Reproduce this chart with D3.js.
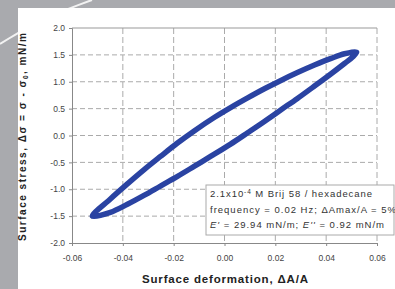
<!DOCTYPE html>
<html lang="en">
<head>
  <meta charset="UTF-8">
  <title>Surface stress vs surface deformation</title>
  <script src="https://d3js.org/d3.v7.min.js"></script>
  <style>
    body { margin: 0; background: #a9aaae; }
    text { font-family: "Liberation Sans", Arial, sans-serif; }
  </style>
</head>
<body>
  <div id="chart"></div>

  <script>
    // Tick values
    const xTicks = [-0.06, -0.04, -0.02, 0, 0.02, 0.04, 0.06];
    const yTicks = [-2.0, -1.5, -1.0, -0.5, 0.0, 0.5, 1.0, 1.5, 2.0];

    // Lissajous loop (strain, stress), going round once
    const loopStrain = [-0.0520, -0.0449, -0.0382, -0.0315, -0.0252, -0.0185, -0.0118, -0.0039, 0.0024, 0.0091,
                        0.0157, 0.0220, 0.0287, 0.0354, 0.0417, 0.0472, 0.0520,
                        0.0504, 0.0472, 0.0417, 0.0354, 0.0287, 0.0220, 0.0157, 0.0091, 0.0024,
                        -0.0055, -0.0118, -0.0185, -0.0252, -0.0315, -0.0382, -0.0449];
    const loopStress = [-1.50, -1.18, -0.90, -0.63, -0.39, -0.14, 0.09, 0.34, 0.52, 0.70,
                        0.87, 1.02, 1.17, 1.31, 1.43, 1.52, 1.55,
                        1.46, 1.34, 1.14, 0.92, 0.69, 0.47, 0.26, 0.05, -0.16,
                        -0.39, -0.57, -0.76, -0.94, -1.11, -1.28, -1.43];

    const legendLines = [
      "2.1x10|-4| M Brij 58 / hexadecane",
      "frequency = 0.02 Hz; \u0394Amax/A = 5%",
      "E' = 29.94 mN/m; E'' = 0.92 mN/m"
    ];

    const W = 395, H = 289;
    const margin = { top: 28, right: 18, bottom: 46, left: 72 };

    const svg = d3.select("#chart").append("svg")
      .attr("width", W)
      .attr("height", H);

    // grey frame with the white panel
    svg.append("rect").attr("width", W).attr("height", H).attr("fill", "#a9aaae");
    svg.append("path")
      .attr("d", "M0,44 Q40,18 92,0")
      .attr("fill", "none")
      .attr("stroke", "#f2f2f2")
      .attr("stroke-width", 2);
    svg.append("rect")
      .attr("x", 18).attr("y", 8)
      .attr("width", W - 18).attr("height", H - 8)
      .attr("fill", "#fff");

    const x = d3.scaleLinear()
      .domain([-0.06, 0.06])
      .range([margin.left, W - margin.right]);

    const y = d3.scaleLinear()
      .domain([-2, 2])
      .range([H - margin.bottom, margin.top]);

    // gridlines
    svg.append("g")
      .selectAll("line")
      .data(yTicks.filter(d => d > -2 && d < 2))
      .enter().append("line")
        .attr("x1", x(-0.06)).attr("x2", x(0.06))
        .attr("y1", d => y(d)).attr("y2", d => y(d))
        .attr("stroke", "#aaa")
        .attr("stroke-dasharray", "5,3");

    svg.append("g")
      .selectAll("line")
      .data(xTicks.filter(d => d > -0.06))
      .enter().append("line")
        .attr("x1", d => x(d)).attr("x2", d => x(d))
        .attr("y1", y(2)).attr("y2", y(-2))
        .attr("stroke", "#aaa")
        .attr("stroke-dasharray", "6,3");

    // top border
    svg.append("line")
      .attr("x1", x(-0.06)).attr("x2", x(0.06))
      .attr("y1", y(2)).attr("y2", y(2))
      .attr("stroke", "#999");

    // axes
    const yAxis = svg.append("g")
      .attr("transform", "translate(" + x(-0.06) + ",0)")
      .call(d3.axisLeft(y).tickValues(yTicks).tickSize(3).tickFormat(d => d.toFixed(1)));

    const xAxis = svg.append("g")
      .attr("transform", "translate(0," + y(-2) + ")")
      .call(d3.axisBottom(x).tickValues(xTicks).tickSize(3).tickFormat(d => d.toFixed(2)));

    [xAxis, yAxis].forEach(a => {
      a.select(".domain").attr("stroke", "#888");
      a.selectAll(".tick line").attr("stroke", "#888");
      a.selectAll(".tick text")
        .attr("fill", "#444")
        .style("font-size", "8.5px")
        .style("font-family", "'Liberation Sans', Arial, sans-serif");
    });
    yAxis.selectAll(".tick text").attr("x", -7);
    xAxis.selectAll(".tick text").attr("y", 12);

    // the loop
    const pts = loopStrain.map((s, i) => [s, loopStress[i]]);
    svg.append("path")
      .datum(pts)
      .attr("d", d3.line()
        .x(d => x(d[0]))
        .y(d => y(d[1]))
        .curve(d3.curveCatmullRomClosed))
      .attr("fill", "none")
      .attr("stroke", "#2a43a2")
      .attr("stroke-width", 5.5)
      .attr("stroke-linejoin", "round");

    // legend box
    const lg = svg.append("g").attr("transform", "translate(206,185)");
    lg.append("rect")
      .attr("width", 188).attr("height", 50)
      .attr("fill", "#fff")
      .attr("stroke", "#aaa");

    const lineWidths = [162, 186, 174];
    legendLines.forEach((line, i) => {
      const t = lg.append("text")
        .attr("x", 4)
        .attr("y", 12 + i * 15.5)
        .attr("fill", "#333")
        .attr("textLength", lineWidths[i])
        .style("font-size", "9.5px");
      if (i === 0) {
        const parts = line.split("|");
        t.append("tspan").text(parts[0]);
        t.append("tspan").attr("dy", -3).style("font-size", "6.5px").text(parts[1]);
        t.append("tspan").attr("dy", 3).text(parts[2]);
      } else if (i === 2) {
        t.append("tspan").style("font-style", "italic").text("E'");
        t.append("tspan").text(" = 29.94 mN/m; ");
        t.append("tspan").style("font-style", "italic").text("E''");
        t.append("tspan").text(" = 0.92 mN/m");
      } else {
        t.text(line);
      }
    });

    // axis labels
    svg.append("text")
      .attr("x", 225)
      .attr("y", 283)
      .attr("text-anchor", "middle")
      .attr("fill", "#222")
      .attr("textLength", 166)
      .style("font-size", "11.5px")
      .style("font-weight", "bold")
      .text("Surface deformation, \u0394A/A");

    const yl = svg.append("text")
      .attr("transform", "translate(26,137) rotate(-90)")
      .attr("text-anchor", "middle")
      .attr("fill", "#222")
      .attr("textLength", 208)
      .style("font-size", "10px")
      .style("font-weight", "bold");
    yl.append("tspan").text("Surface stress, \u0394\u03c3 = \u03c3 - \u03c3");
    yl.append("tspan").attr("dy", 2).style("font-size", "6.5px").text("0");
    yl.append("tspan").attr("dy", -2).text(", mN/m");
  </script>
</body>
</html>
